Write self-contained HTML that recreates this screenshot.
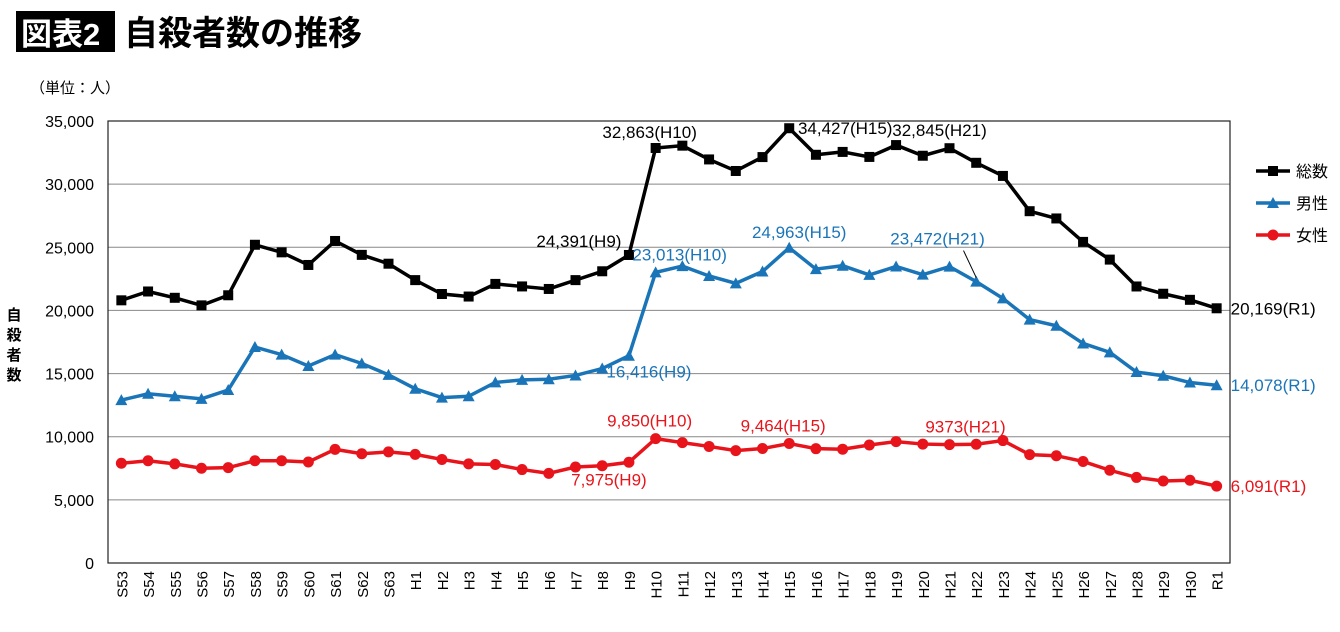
<!DOCTYPE html>
<html><head><meta charset="utf-8"><style>
body{margin:0;background:#fff;width:1340px;height:627px;overflow:hidden;font-family:"Liberation Sans","Noto Sans CJK JP",sans-serif}
svg text{font-family:"Liberation Sans","Noto Sans CJK JP",sans-serif}
</style></head><body>
<svg id="c" width="1340" height="627" xmlns="http://www.w3.org/2000/svg">
<rect x="16" y="11" width="99" height="41" fill="#000"/>
<text x="21" y="45" font-size="31" font-weight="bold" fill="#fff">図表2</text>
<text x="124" y="45" font-size="34" font-weight="bold" fill="#000">自殺者数の推移</text>
<text x="30" y="93" font-size="15">（単位：人）</text>
<g font-size="15" font-weight="bold" text-anchor="middle">
<text x="14" y="320">自</text><text x="14" y="340">殺</text><text x="14" y="360">者</text><text x="14" y="380">数</text></g>
</svg>
<script>
const categories=["S53","S54","S55","S56","S57","S58","S59","S60","S61","S62","S63","H1","H2","H3","H4","H5","H6","H7","H8","H9","H10","H11","H12","H13","H14","H15","H16","H17","H18","H19","H20","H21","H22","H23","H24","H25","H26","H27","H28","H29","H30","R1"];
const totalValues=[20800,21500,21000,20400,21200,25200,24600,23600,25500,24400,23700,22400,21300,21100,22100,21900,21700,22400,23100,24391,32863,33048,31957,31042,32143,34427,32325,32552,32155,33093,32249,32845,31690,30651,27858,27283,25427,24025,21897,21321,20840,20169];
const maleValues=[12900,13400,13200,13000,13700,17100,16500,15600,16500,15800,14900,13800,13100,13200,14300,14500,14550,14850,15400,16416,23013,23512,22727,22144,23080,24963,23272,23540,22813,23478,22831,23472,22283,20955,19273,18787,17386,16681,15121,14826,14290,14078];
const femaleValues=[7900,8100,7850,7500,7550,8100,8100,8000,9000,8650,8800,8600,8200,7850,7800,7400,7100,7600,7700,7975,9850,9535,9230,8898,9063,9464,9053,9012,9342,9615,9418,9373,9407,9696,8585,8496,8041,7344,6776,6495,6550,6091];
const yTicks=[0,5000,10000,15000,20000,25000,30000,35000];
const yTickLabels=["0","5,000","10,000","15,000","20,000","25,000","30,000","35,000"];
const NS="http://www.w3.org/2000/svg",svg=document.getElementById('c');
const L=108,R=1230,T=121,B=563,YMAX=35000;
const step=(R-L)/categories.length;
const x=i=>L+step*(i+0.5);
const y=v=>B-(v/YMAX)*(B-T);
function mk(t,a,p){const e=document.createElementNS(NS,t);for(const k in a)e.setAttribute(k,a[k]);(p||svg).appendChild(e);return e;}
yTicks.forEach((v,i)=>{
 if(v>0&&v<YMAX){const g=mk('line',{x1:L,x2:R,y1:y(v),y2:y(v),stroke:'#888','stroke-width':1});
 
 }
 const t=mk('text',{x:94,y:y(v)+6,'font-size':16,'text-anchor':'end'});t.textContent=yTickLabels[i];
 
 
});
const box=mk('rect',{x:L,y:T,width:R-L,height:B-T,fill:'none',stroke:'#222','stroke-width':1.2});


categories.forEach((c,i)=>{
 const t=mk('text',{transform:`translate(${x(i)+6},${B+8}) rotate(-90)`,'font-size':15,'text-anchor':'end'});t.textContent=c;
 
 
});
function series(vals,color,shape,name){
 const g=mk('g',{});
 
 
 mk('polyline',{points:vals.map((v,i)=>x(i)+','+y(v)).join(' '),fill:'none',stroke:color,'stroke-width':3.5},g);
 vals.forEach((v,i)=>{
  let m;
  if(shape==='sq')m=mk('rect',{x:x(i)-5,y:y(v)-5,width:10,height:10,fill:color},g);
  else if(shape==='tri')m=mk('polygon',{points:`${x(i)},${y(v)-6} ${x(i)-6},${y(v)+5} ${x(i)+6},${y(v)+5}`,fill:color},g);
  else m=mk('circle',{cx:x(i),cy:y(v),r:5.5,fill:color},g);
  
  
 });
}
series(totalValues,'#000','sq','total');
series(maleValues,'#1a75b8','tri','male');
series(femaleValues,'#e8141b','circ','female');
function lab(txt,i,vals,dx,dy,color,anchor){
 const t=mk('text',{x:x(i)+dx,y:y(vals[i])+dy,'font-size':17,fill:color,'text-anchor':anchor||'middle'});t.textContent=txt;
 
 
}
lab('24,391(H9)',19,totalValues,-50,-8,'#000');
lab('32,863(H10)',20,totalValues,-6,-10,'#000');
lab('34,427(H15)',25,totalValues,56,6,'#000');
lab('32,845(H21)',31,totalValues,-10,-12,'#000');
lab('20,169(R1)',41,totalValues,14,6,'#000','start');
lab('23,013(H10)',20,maleValues,24,-12,'#1a75b8');
lab('24,963(H15)',25,maleValues,10,-10,'#1a75b8');
lab('23,472(H21)',31,maleValues,-12,-22,'#1a75b8');
lab('16,416(H9)',19,maleValues,20,22,'#1a75b8');
lab('14,078(R1)',41,maleValues,14,6,'#1a75b8','start');
lab('9,850(H10)',20,femaleValues,-6,-12,'#e8141b');
lab('9,464(H15)',25,femaleValues,-6,-12,'#e8141b');
lab('9373(H21)',31,femaleValues,16,-12,'#e8141b');
lab('7,975(H9)',19,femaleValues,-20,23,'#e8141b');
lab('6,091(R1)',41,femaleValues,14,6,'#e8141b','start');
const ld=mk('line',{x1:x(31)+14,y1:y(maleValues[31])-16,x2:x(32),y2:y(maleValues[32])-4,stroke:'#000','stroke-width':1});


const legend=[['総数','#000','sq'],['男性','#1a75b8','tri'],['女性','#e8141b','circ']];
legend.forEach((l,i)=>{
 const g=mk('g',{});
 
 
 const cy=171+i*32;
 mk('line',{x1:1256,x2:1290,y1:cy,y2:cy,stroke:l[1],'stroke-width':3.5},g);
 if(l[2]==='sq')mk('rect',{x:1268,y:cy-5,width:10,height:10,fill:l[1]},g);
 else if(l[2]==='tri')mk('polygon',{points:`1273,${cy-6} 1267,${cy+5} 1279,${cy+5}`,fill:l[1]},g);
 else mk('circle',{cx:1273,cy:cy,r:5.5,fill:l[1]},g);
 const t=mk('text',{x:1296,y:cy+6,'font-size':16},g);t.textContent=l[0];
});
</script>
</body></html>
